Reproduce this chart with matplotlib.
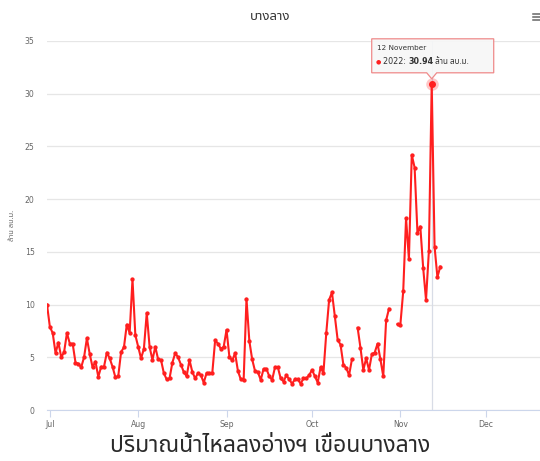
import numpy as np
import pandas as pd
import matplotlib
matplotlib.use("Agg")
import matplotlib.pyplot as plt
import matplotlib.dates as mdates
import matplotlib.transforms as mtransforms
from matplotlib import font_manager
from matplotlib.ft2font import FT2Font
from matplotlib.patches import Polygon

# daily inflow to Bang Lang reservoir, million m3 (NaN = no record)
start_date = "2022-06-30"
inflow = [
    10.0, 7.9, 7.3, 5.4, 6.4, 5.0, 5.5, 7.3, 6.3, 6.3,
    4.5, 4.4, 4.05, 5.0, 6.8, 5.3, 4.05, 4.6, 3.15, 4.1,
    4.1, 5.45, 4.9, 4.1, 3.1, 3.2, 5.5, 5.95, 8.1, 7.3,
    12.4, 7.1, 6.0, 4.9, 5.8, 9.2, 6.0, 4.75, 6.0, 4.8,
    4.75, 3.5, 2.9, 3.0, 4.5, 5.4, 5.0, 4.3, 3.6, 3.2,
    4.75, 3.6, 3.0, 3.5, 3.3, 2.6, 3.5, 3.5, 3.5, 6.6,
    6.3, 5.8, 6.0, 7.6, 5.05, 4.7, 5.4, 3.7, 2.9, 2.8,
    10.55, 6.55, 4.8, 3.7, 3.6, 2.85, 3.9, 3.9, 3.2, 2.85,
    4.05, 4.05, 3.0, 2.7, 3.3, 2.9, 2.5, 2.9, 2.9, 2.5,
    3.0, 3.0, 3.3, 3.8, 3.2, 2.6, 4.05, 3.5, 7.3, 10.45,
    11.15, 8.9, 6.65, 6.2, 4.3, 4.0, 3.3, 4.8, np.nan, 7.8,
    5.9, 3.8, 4.9, 3.8, 5.3, 5.45, 6.3, 4.8, 3.2, 8.5,
    9.6, np.nan, np.nan, 8.15, 8.1, 11.25, 18.2, 14.3, 24.2, 23.0,
    16.8, 17.4, 13.5, 10.45, 15.05, 30.94, 15.5, 12.6, 13.6,
]
dates = pd.date_range(start_date, periods=len(inflow), freq="D")
series_name = "2022"
unit = "ล้าน ลบ.ม."
title = "บางลาง"
caption = "ปริมาณน้ำไหลลงอ่างฯ เขื่อนบางลาง"
y_ticks = [0, 5, 10, 15, 20, 25, 30, 35]


def thai_font():
    # first installed family that actually has Thai glyphs
    preferred = ["Noto Sans Thai", "Noto Sans Thai UI", "Loma", "Garuda",
                 "Norasi", "Sawasdee", "Tlwg Typo", "Waree", "Umpush"]
    found = []
    for f in font_manager.fontManager.ttflist:
        try:
            if ord("ก") in FT2Font(f.fname).get_charmap():
                found.append(f.name)
        except Exception:
            pass
    for name in preferred:
        if name in found:
            return name
    return found[0] if found else "DejaVu Sans"


thai = thai_font()
plt.rcParams["font.family"] = [thai, "DejaVu Sans"]
latin = ["DejaVu Sans"]

fig = plt.figure(figsize=(5.4, 4.61), dpi=100)
ax = fig.add_axes([47 / 540, 1 - 410 / 461, 493 / 540, 369 / 461])

red = "#ff1f1f"
ax.plot(dates, inflow, color=red, lw=1.5, marker="o", ms=2.1,
        mec=red, mfc=red, zorder=3)

ax.set_ylim(0, 35)
ax.set_yticks(y_ticks)
ax.set_xlim(pd.Timestamp("2022-06-30"), pd.Timestamp("2022-12-20"))
ax.xaxis.set_major_locator(mdates.MonthLocator())
ax.xaxis.set_major_formatter(mdates.DateFormatter("%b"))

ax.grid(axis="y", color="#e6e6e6", lw=0.9)
ax.set_axisbelow(True)
for side in ["top", "right", "left"]:
    ax.spines[side].set_visible(False)
ax.spines["bottom"].set_color("#ccd6eb")
ax.tick_params(axis="y", length=0, pad=9, labelsize=5.6, labelcolor="#666666")
ax.tick_params(axis="x", length=5, width=0.8, color="#ccd6eb", pad=2,
               labelsize=5.6, labelcolor="#666666")
for lab in ax.get_xticklabels() + ax.get_yticklabels():
    lab.set_family(latin)
ax.set_ylabel(unit, fontsize=5.4, color="#666666")
ax.yaxis.set_label_coords(-0.062, 0.5)

# highlighted maximum with crosshair and tooltip
i_max = int(np.nanargmax(inflow))
d_max = dates[i_max]
v_max = inflow[i_max]
ax.axvline(d_max, color="#d8dce6", lw=0.9, zorder=1)
ax.plot([d_max], [v_max], "o", ms=9, color=red, alpha=0.25, mec="none", zorder=4)
ax.plot([d_max], [v_max], "o", ms=4, color=red, zorder=5)

px = mtransforms.Affine2D().scale(fig.dpi / 100, -fig.dpi / 100)
anchor = px + mtransforms.ScaledTranslation(mdates.date2num(d_max), v_max, ax.transData)
tip = Polygon([(-60, -45), (62, -45), (62, -11), (5, -11), (0, -5),
               (-5, -11), (-60, -11)], closed=True, transform=anchor,
              fc=(0.97, 0.97, 0.97, 0.9), ec="#ef8a8a", lw=0.9, zorder=6,
              clip_on=False)
ax.add_patch(tip)
ax.annotate(d_max.strftime("%-d %B"), (d_max, v_max), xytext=(-55, 36),
            textcoords="offset pixels", fontsize=5.2, color="#333333",
            va="center", ha="left", zorder=7, family=latin)
ax.annotate("●", (d_max, v_max), xytext=(-56, 22), textcoords="offset pixels",
            fontsize=4.4, color=red, va="center", ha="left", zorder=7,
            family=latin)
t1 = ax.annotate(series_name + ": ", (d_max, v_max), xytext=(-49, 22),
                 textcoords="offset pixels", fontsize=5.8, color="#333333",
                 va="center", ha="left", zorder=7, family=latin)
t2 = ax.annotate(f"{v_max:.2f}", xycoords=t1, xy=(1, 0.5), va="center",
                 ha="left", fontsize=5.8, weight="bold", color="#333333",
                 zorder=7, family=latin)
ax.annotate(" " + unit, xycoords=t2, xy=(1, 0.5), va="center", ha="left",
            fontsize=5.8, weight="bold", color="#333333", zorder=7)

fig.text(0.5, 1 - 17 / 461, title, ha="center", va="center",
         fontsize=9.5, color="#333333")
fig.text(0.5, 1 - 446 / 461, caption, ha="center", va="center",
         fontsize=16.5, color="#2a2a2a", weight="light")

# export-menu icon in the corner
for k in range(3):
    yy = 1 - (14 + 3 * k) / 461
    fig.add_artist(plt.Line2D([533 / 540, 541 / 540], [yy, yy],
                              color="#666666", lw=1.1))

fig.savefig("out.png", dpi=100)
